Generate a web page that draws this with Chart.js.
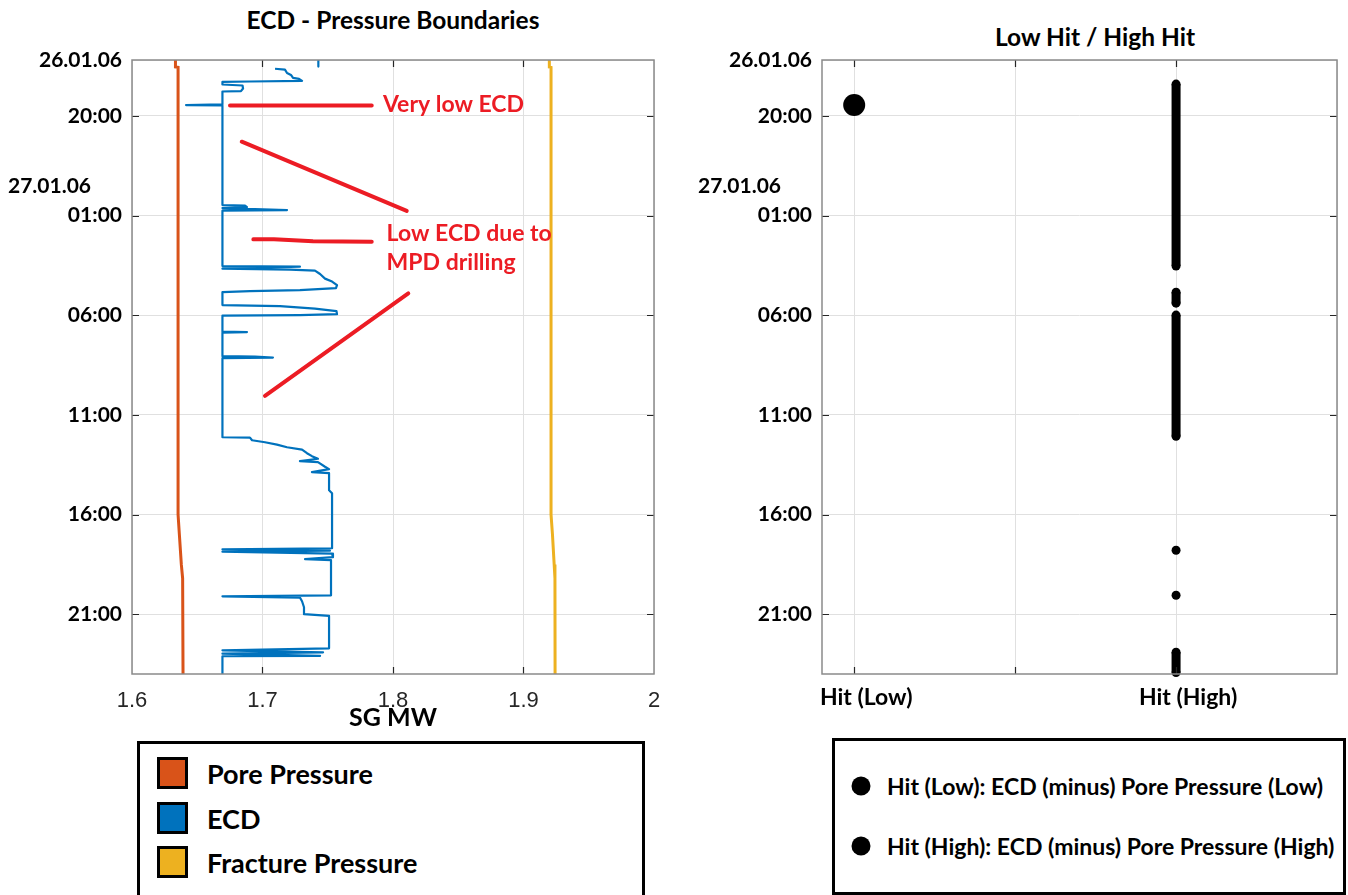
<!DOCTYPE html>
<html>
<head>
<meta charset="utf-8">
<title>ECD - Pressure Boundaries</title>
<script src="https://cdn.jsdelivr.net/npm/chart.js@4.4.1/dist/chart.umd.min.js"></script>
<style>
html,body{margin:0;padding:0;background:#fff;}
body{position:relative;width:1348px;height:895px;overflow:hidden;font-family:Lato,"Open Sans",sans-serif;}
.ttl{position:absolute;font-weight:700;font-size:24.5px;color:#000;white-space:nowrap;transform:translate(-50%,-50%);line-height:1;}
canvas{position:absolute;top:0;}
#c1{left:0;}
#c2{left:690px;}
.box{position:absolute;border:3px solid #000;box-sizing:border-box;background:#fff;}
#leg1{left:137px;top:741px;width:508px;height:158px;}
#leg2{left:832px;top:738px;width:514px;height:157px;}
.sw{position:absolute;width:31px;height:32px;border:3px solid #000;box-sizing:border-box;transform:translateY(-50%);}
.lt{position:absolute;font-weight:700;color:#000;white-space:nowrap;transform:translateY(-50%);line-height:1;}
.dot{position:absolute;width:19px;height:19px;border-radius:50%;background:#000;transform:translate(-50%,-50%);}
</style>
</head>
<body>
<div class="ttl" style="left:393px;top:20px">ECD - Pressure Boundaries</div>
<div class="ttl" style="left:1095px;top:37px">Low Hit / High Hit</div>
<canvas id="c1" width="680" height="740"></canvas>
<canvas id="c2" width="658" height="740"></canvas>
<div class="box" id="leg1"></div>
<div class="box" id="leg2"></div>
<script>
// ---------- data (time in hours since 26.01.06 00:00) ----------
const yMin = 17.19, yMax = 48.0;
const yTickHours = [20, 25, 30, 35, 40, 45];
const yTickLabels = ['20:00', '01:00', '06:00', '11:00', '16:00', '21:00'];
const topDateLabel = '26.01.06';
const secondDateLabel = '27.01.06';

const xTickValues = [1.6, 1.7, 1.8, 1.9, 2.0];
const xTickLabels = ['1.6', '1.7', '1.8', '1.9', '2'];

const poreHours = [17.19, 17.54, 17.56, 40.00, 41.00, 42.50, 43.20, 48.00];
const poreSG    = [1.6333, 1.6333, 1.6353, 1.6353, 1.6363, 1.6378, 1.6388, 1.6391];

const fracHours = [17.19, 17.54, 17.56, 40.00, 41.00, 42.50, 43.20, 48.00];
const fracSG    = [1.9198, 1.9198, 1.9211, 1.9211, 1.9222, 1.9235, 1.9241, 1.9242];

const ecdHours = [17.19, 17.52, NaN, 17.63, 17.67, 17.84, 17.94, 18.09, 18.14, 18.24, 18.27, 18.29,
  18.42, 18.47, 18.62, 18.75, 18.77, 19.42, 19.45, 19.47, 24.47, 24.49, 24.57, 24.62, 24.72, 24.75,
  27.53, 27.56, 27.66, 27.71, 27.76, 27.93, 28.16, 28.31, 28.49, 28.64, 28.74, 28.79, 28.84,
  29.49, 29.54, 29.67, 29.79, 29.94, 29.99, 30.02, 30.82, 30.84, 30.87, 32.05, 32.07, 32.12, 32.15,
  36.12, 36.14, 36.27, 36.37, 36.49, 36.62, 36.74, 36.92, 37.07, 37.20, 37.32, 37.37, 37.60, 37.72,
  37.87, 37.92, 38.78, 38.93, 41.69, 41.74, 41.81, 41.86, 41.96, 42.14, 42.24, 42.29,
  44.05, 44.10, 44.17, 44.35, 44.65, 45.00, 45.08, 46.71, 46.81, 46.91, 46.98, 47.09, 47.11, 48.01];
const ecdSG = [1.7428, 1.7428, NaN, 1.7096, 1.7172, 1.7188, 1.7218, 1.7234, 1.7280, 1.7303, 1.6904, 1.6693,
  1.6693, 1.6847, 1.6851, 1.6835, 1.6693, 1.6693, 1.6414, 1.6693, 1.6693, 1.6866, 1.6881, 1.6693, 1.7188, 1.6693,
  1.6693, 1.7287, 1.6693, 1.7211, 1.7402, 1.7441, 1.7479, 1.7533, 1.7571, 1.7563, 1.7287, 1.6904, 1.6693,
  1.6693, 1.7134, 1.7402, 1.7567, 1.7571, 1.7287, 1.6693, 1.6693, 1.6881, 1.6693, 1.6693, 1.6943, 1.7080, 1.6693,
  1.6693, 1.6904, 1.6920, 1.7019, 1.7111, 1.7188, 1.7303, 1.7341, 1.7379, 1.7425, 1.7287, 1.7425, 1.7479, 1.7510,
  1.7379, 1.7510, 1.7510, 1.7533, 1.7533, 1.6693, 1.7517, 1.6693, 1.7533, 1.7540, 1.7326, 1.7525,
  1.7525, 1.6693, 1.7287, 1.7303, 1.7318, 1.7318, 1.7510, 1.7510, 1.6693, 1.7464, 1.6693, 1.7441, 1.6693, 1.6693];

// red annotation strokes (NaN separates strokes)
const annoSG    = [1.6751, 1.7837, NaN, 1.6841, 1.8105, NaN, 1.6930, 1.7088, 1.7387, 1.7837, NaN, 1.7019, 1.8117];
const annoHours = [19.47, 19.47, NaN, 21.29, 24.76, NaN, 26.19, 26.18, 26.28, 26.31, NaN, 34.04, 28.90];
const annoText      = ['Very low ECD', 'Low ECD due to', 'MPD drilling'];
const annoTextSG    = [1.7923, 1.7951, 1.7951];
const annoTextHours = [19.45, 25.92, 27.38];

// hit chart
const hitCategories = ['Hit (Low)', '', 'Hit (High)', ''];
const hitCategoryPos = [1, 2, 3, 4];
const hitLowHours = [19.45];
const hitHighStart = [18.40, 28.84, 29.99, 41.79, 44.05, 46.91];
const hitHighEnd   = [27.53, 29.39, 36.07, 41.79, 44.05, 47.93];

const legendLeft = ['Pore Pressure', 'ECD', 'Fracture Pressure'];
const legendLeftColors = ['#D95319', '#0072BD', '#EDB120'];
const legendRight = ['Hit (Low): ECD (minus) Pore Pressure (Low)', 'Hit (High): ECD (minus) Pore Pressure (High)'];

// ---------- helpers ----------
const pts = (xs, ys) => xs.map((v, i) => ({x: v, y: ys[i]}));
const GRID = '#e0e0e0';
const tickFont = {family: 'Lato', weight: 'bold', size: 21};

const framePlugin = {
  id: 'frame',
  afterDraw(chart) {
    const {ctx, chartArea: a, scales: {x, y}} = chart;
    ctx.save();
    ctx.strokeStyle = '#262626';
    ctx.lineWidth = 1.2;
    const L = 7;
    ctx.beginPath();
    x.ticks.forEach(t => {
      const p = Math.round(x.getPixelForValue(t.value)) + 0.5;
      if (p > a.left + 2 && p < a.right - 2) {
        ctx.moveTo(p, a.top); ctx.lineTo(p, a.top + L);
        ctx.moveTo(p, a.bottom); ctx.lineTo(p, a.bottom - L);
      }
    });
    y.ticks.forEach(t => {
      const p = Math.round(y.getPixelForValue(t.value)) + 0.5;
      if (p > a.top + 2 && p < a.bottom - 2) {
        ctx.moveTo(a.left, p); ctx.lineTo(a.left + L, p);
        ctx.moveTo(a.right, p); ctx.lineTo(a.right - L, p);
      }
    });
    ctx.stroke();
    ctx.strokeStyle = '#8a8a8a';
    ctx.lineWidth = 1.5;
    ctx.strokeRect(a.left, a.top, a.right - a.left, a.bottom - a.top);
    // secondary date label above 01:00
    ctx.fillStyle = '#000';
    ctx.font = 'bold 21px Lato';
    ctx.textAlign = 'left';
    ctx.textBaseline = 'middle';
    ctx.fillText(secondDateLabel, a.left - 124, y.getPixelForValue(yTickHours[1]) - 29);
    ctx.restore();
  }
};

const annoPlugin = {
  id: 'anno',
  afterDatasetsDraw(chart) {
    const {ctx, scales: {x, y}} = chart;
    ctx.save();
    ctx.fillStyle = '#EC1C24';
    ctx.font = 'bold 23px Lato';
    ctx.textAlign = 'left';
    ctx.textBaseline = 'middle';
    annoText.forEach((t, i) => ctx.fillText(t, x.getPixelForValue(annoTextSG[i]), y.getPixelForValue(annoTextHours[i])));
    ctx.restore();
  }
};

function yAxis() {
  return {
    type: 'linear', reverse: true, min: yMin, max: yMax,
    afterBuildTicks: s => { s.ticks = [yMin, ...yTickHours].map(v => ({value: v})); },
    afterFit: s => { s.width = 132; },
    ticks: {
      callback: (v, i) => i === 0 ? topDateLabel : yTickLabels[i - 1],
      font: tickFont, color: '#000', padding: 10, autoSkip: false
    },
    grid: {color: GRID, drawTicks: false, lineWidth: 1},
    border: {display: false}
  };
}

Chart.defaults.animation = false;

// ---------- left chart ----------
new Chart(document.getElementById('c1'), {
  type: 'scatter',
  data: {
    datasets: [
      {label: 'annotation', data: pts(annoSG, annoHours), showLine: true, borderColor: '#EC1C24', borderWidth: 4,
       borderCapStyle: 'round', pointRadius: 0, spanGaps: false, order: 0},
      {label: 'Pore Pressure', data: pts(poreSG, poreHours), showLine: true, borderColor: '#D95319', borderWidth: 3,
       pointRadius: 0, order: 2},
      {label: 'ECD', data: pts(ecdSG, ecdHours), showLine: true, borderColor: '#0072BD', borderWidth: 2.2,
       borderJoinStyle: 'round', pointRadius: 0, spanGaps: false, order: 1},
      {label: 'Fracture Pressure', data: pts(fracSG, fracHours), showLine: true, borderColor: '#EDB120', borderWidth: 3,
       pointRadius: 0, order: 2}
    ]
  },
  options: {
    responsive: false, devicePixelRatio: 1, animation: false,
    layout: {padding: {top: 60, left: 0, right: 26, bottom: 0}},
    plugins: {legend: {display: false}, tooltip: {enabled: false}, title: {display: false}},
    scales: {
      x: {
        type: 'linear', min: 1.6, max: 2.0,
        afterBuildTicks: s => { s.ticks = xTickValues.map(v => ({value: v})); },
        afterFit: s => { s.height = 66; },
        ticks: {callback: (v, i) => xTickLabels[i], font: {family: 'Liberation Sans', size: 22}, color: '#262626',
                padding: 14, autoSkip: false, maxRotation: 0},
        grid: {color: GRID, drawTicks: false},
        border: {display: false},
        title: {display: true, text: 'SG MW', font: {family: 'Lato', weight: 'bold', size: 25}, color: '#000',
                padding: {top: 0, bottom: 7}}
      },
      y: yAxis()
    }
  },
  plugins: [framePlugin, annoPlugin]
});

// ---------- right chart ----------
const highData = [];
hitHighStart.forEach((s, i) => {
  if (i > 0) highData.push({x: NaN, y: NaN});
  highData.push({x: hitCategoryPos[2], y: s});
  if (hitHighEnd[i] !== s) highData.push({x: hitCategoryPos[2], y: hitHighEnd[i]});
});

new Chart(document.getElementById('c2'), {
  type: 'scatter',
  data: {
    datasets: [
      {label: legendRight[0], data: hitLowHours.map(h => ({x: hitCategoryPos[0], y: h})), pointRadius: 11,
       pointBackgroundColor: '#000', pointBorderColor: '#000', pointBorderWidth: 0, clip: false},
      {label: legendRight[1], data: highData, showLine: true, spanGaps: false, borderColor: '#000', borderWidth: 9,
       pointRadius: 4.5, pointBackgroundColor: '#000', pointBorderColor: '#000', pointBorderWidth: 0, clip: false}
    ]
  },
  options: {
    responsive: false, devicePixelRatio: 1, animation: false,
    layout: {padding: {top: 60, left: 0, right: 3, bottom: 0}},
    plugins: {legend: {display: false}, tooltip: {enabled: false}, title: {display: false}},
    scales: {
      x: {
        type: 'linear', min: 0.8, max: 4,
        afterBuildTicks: s => { s.ticks = hitCategoryPos.map(v => ({value: v})); },
        afterFit: s => { s.height = 66; },
        ticks: {callback: (v, i) => hitCategories[i], font: {family: 'Lato', weight: 'bold', size: 23}, color: '#000',
                padding: 10, autoSkip: false, maxRotation: 0, labelOffset: 12},
        grid: {color: GRID, drawTicks: false},
        border: {display: false}
      },
      y: yAxis()
    }
  },
  plugins: [framePlugin]
});

// ---------- legends (HTML) ----------
const leftCenters = [773, 818, 862];
legendLeft.forEach((name, i) => {
  const sw = document.createElement('div');
  sw.className = 'sw';
  sw.style.left = '157px'; sw.style.top = leftCenters[i] + 'px'; sw.style.background = legendLeftColors[i];
  document.body.appendChild(sw);
  const t = document.createElement('div');
  t.className = 'lt';
  t.style.left = '207px'; t.style.top = leftCenters[i] + 'px'; t.style.fontSize = '27px';
  t.textContent = name;
  document.body.appendChild(t);
});
const rightCenters = [786, 846];
legendRight.forEach((name, i) => {
  const d = document.createElement('div');
  d.className = 'dot';
  d.style.left = '861px'; d.style.top = rightCenters[i] + 'px';
  document.body.appendChild(d);
  const t = document.createElement('div');
  t.className = 'lt';
  t.style.left = '887px'; t.style.top = rightCenters[i] + 'px'; t.style.fontSize = '23px';
  t.textContent = name;
  document.body.appendChild(t);
});
</script>
</body>
</html>
